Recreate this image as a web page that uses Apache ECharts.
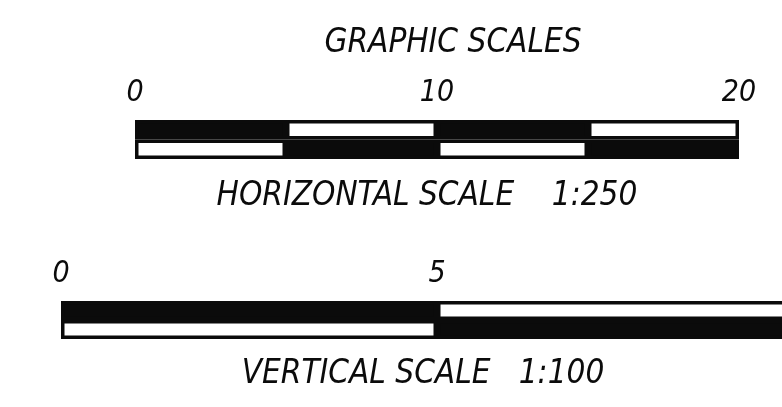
<!DOCTYPE html>
<html>
<head>
<meta charset="utf-8">
<script src="https://cdn.jsdelivr.net/npm/echarts@6/dist/echarts.min.js"></script>
<style>
html,body{margin:0;padding:0;background:#fff;}
#c{width:782px;height:407px;}
</style>
</head>
<body>
<div id="c"></div>
<script>
// ---- data ----
const titleText = 'GRAPHIC SCALES';
const hCaption = 'HORIZONTAL SCALE    1:250';
const vCaption = 'VERTICAL SCALE   1:100';
const hMax = 20, hInterval = 10;          // horizontal scale tick labels 0,10,20
const hSegments = [5, 5, 5, 5];           // segment lengths (units)
const hTopFilled = [1, 0, 1, 0];          // upper row: 1 = black
const hBottomFilled = [0, 1, 0, 1];       // lower row
const vMax = 10, vInterval = 5;           // vertical scale tick labels 0,5,(10)
const vSegments = [5, 5];
const vTopFilled = [1, 0];
const vBottomFilled = [0, 1];
const rows = ['upper', 'lower'];

const INK = '#0b0b0b', PAPER = '#ffffff';
const FONT = "'Liberation Sans Narrow','DejaVu Sans Condensed','Liberation Sans',sans-serif";

function makeSeries(segs, topF, botF, idx) {
  return segs.map((len, i) => ({
    type: 'bar',
    stack: 'scale' + idx,
    xAxisIndex: idx, yAxisIndex: idx,
    barWidth: '100%',
    barCategoryGap: '0%',
    silent: true,
    data: [
      { value: len, itemStyle: { color: topF[i] ? INK : PAPER } },
      { value: len, itemStyle: { color: botF[i] ? INK : PAPER } }
    ],
    itemStyle: { borderColor: INK, borderWidth: 3.5 }
  }));
}

const axisLabelStyle = {
  fontFamily: FONT, fontStyle: 'italic', fontSize: 30, color: INK, margin: 12
};

const chart = echarts.init(document.getElementById('c'), null, { renderer: 'canvas' });
chart.setOption({
  backgroundColor: PAPER,
  animation: false,
  title: [
    { text: titleText, left: 448, top: 22, textAlign: 'center',
      textStyle: { fontFamily: FONT, fontStyle: 'italic', fontWeight: 'normal', fontSize: 33, color: INK } },
    { text: hCaption, left: 422, top: 175, textAlign: 'center',
      textStyle: { fontFamily: FONT, fontStyle: 'italic', fontWeight: 'normal', fontSize: 33, color: INK } },
    { text: vCaption, left: 418, top: 353, textAlign: 'center',
      textStyle: { fontFamily: FONT, fontStyle: 'italic', fontWeight: 'normal', fontSize: 33, color: INK } }
  ],
  grid: [
    { left: 135, top: 120, width: 604, height: 39, outerBoundsMode: 'none', containLabel: false },
    { left: 61, top: 301, width: 752, height: 38, outerBoundsMode: 'none', containLabel: false }
  ],
  xAxis: [
    { gridIndex: 0, type: 'value', position: 'top', min: 0, max: hMax, interval: hInterval,
      axisLine: { show: false }, axisTick: { show: false }, splitLine: { show: false },
      axisLabel: axisLabelStyle },
    { gridIndex: 1, type: 'value', position: 'top', min: 0, max: vMax, interval: vInterval,
      axisLine: { show: false }, axisTick: { show: false }, splitLine: { show: false },
      axisLabel: axisLabelStyle }
  ],
  yAxis: [
    { gridIndex: 0, type: 'category', data: rows, inverse: true, show: false },
    { gridIndex: 1, type: 'category', data: rows, inverse: true, show: false }
  ],
  series: [].concat(makeSeries(hSegments, hTopFilled, hBottomFilled, 0),
                    makeSeries(vSegments, vTopFilled, vBottomFilled, 1))
});
</script>
</body>
</html>
